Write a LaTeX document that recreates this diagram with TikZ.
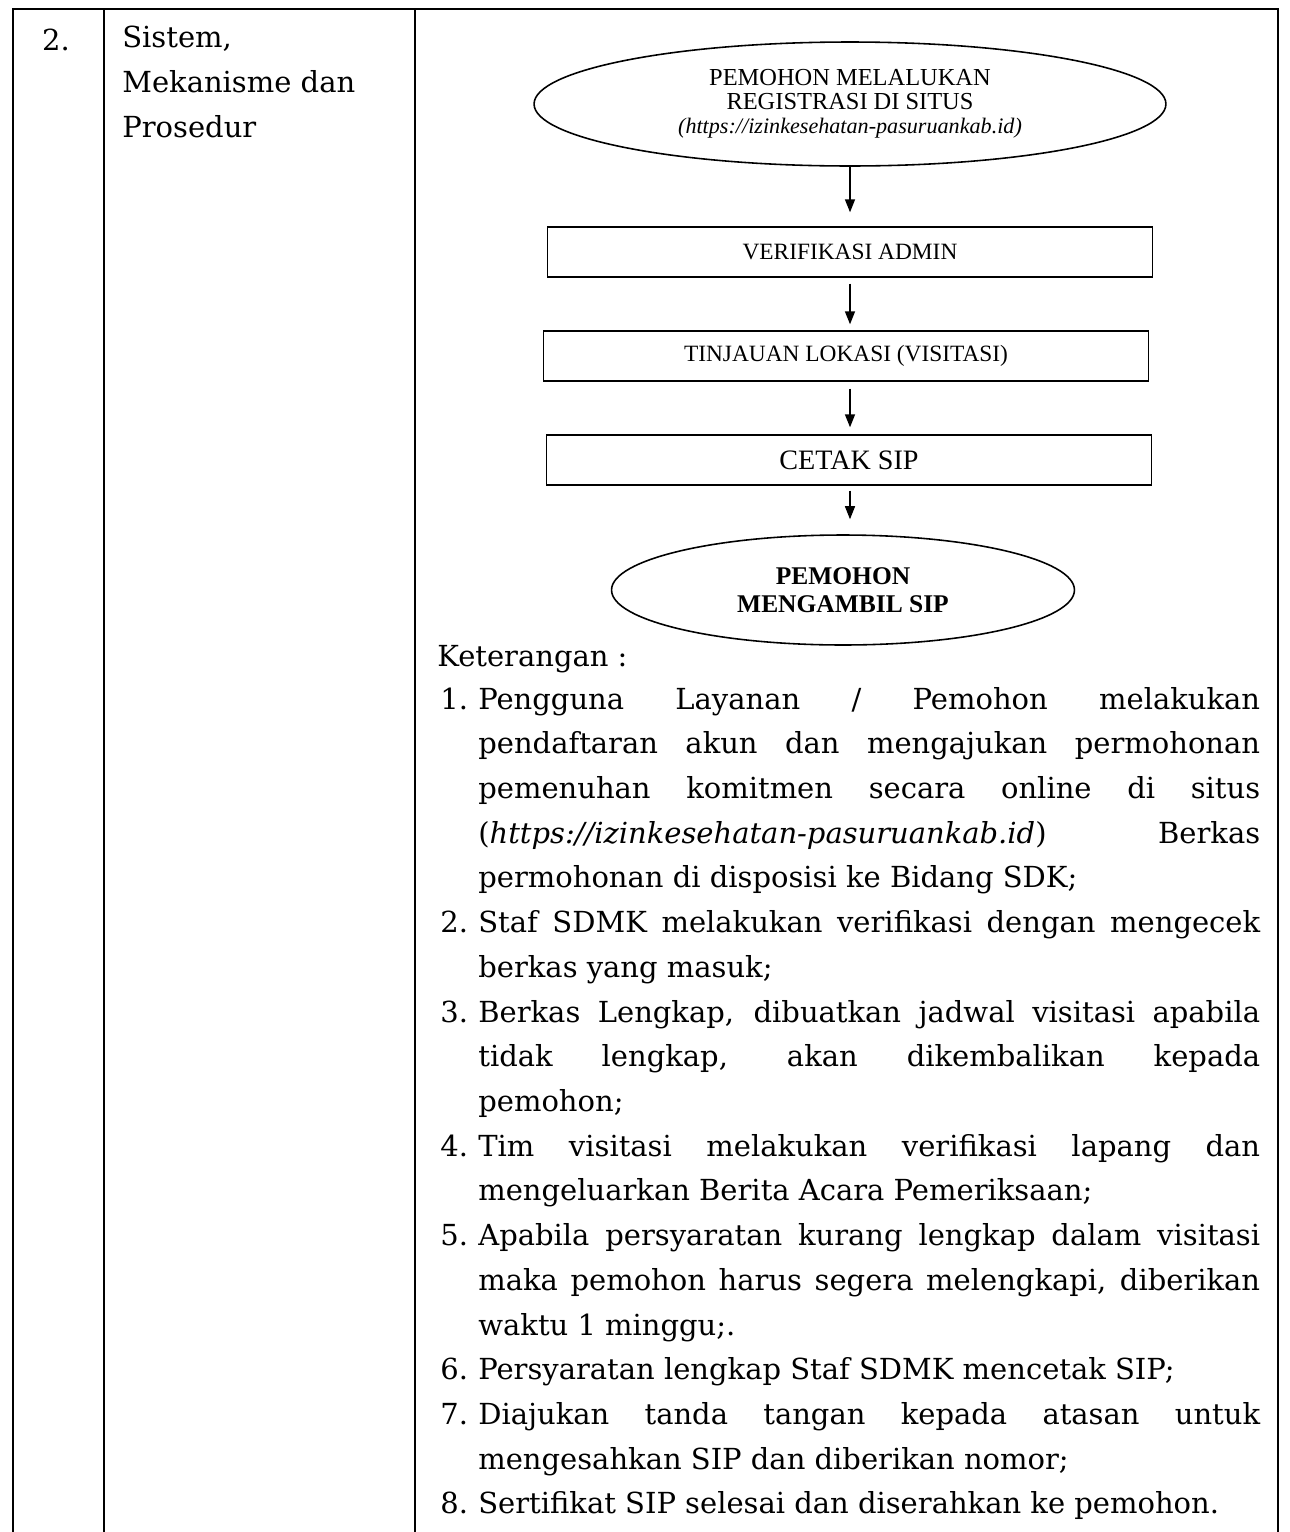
\documentclass[tikz,border=0pt]{standalone}
\usepackage{fontspec}
\setmainfont{DejaVu Serif}
\newfontfamily\flowfont{Liberation Serif}
\usetikzlibrary{shapes.geometric,arrows.meta}

\newcommand\notenum[1]{\noindent\hangindent=0.76cm\hangafter=1\makebox[0.76cm][l]{#1}}

\begin{document}
\begin{tikzpicture}[x=0.02cm,y=-0.02cm,
    tableline/.style={line width=1.5pt,line join=miter},
    bodytext/.style={font=\fontsize{16.5}{25.45}\selectfont,inner sep=0pt},
    flowbox/.style={draw,line width=0.8pt,rectangle,minimum width=12.1cm,minimum height=1cm,
      inner sep=0pt,font=\flowfont\fontsize{13.3}{14}\selectfont},
    flowoval/.style={draw,line width=0.9pt,ellipse,inner sep=0pt,align=center},
    flowarrow/.style={line width=0.8pt,-{Triangle[length=0.26cm,width=0.2cm]}}]

    \useasboundingbox (0,0) rectangle (1289,1532);

    % Table frame
    \draw[tableline] (13,1532) -- (13,9) -- (1278,9) -- (1278,1532);
    \draw[tableline] (104,9) -- (104,1532);
    \draw[tableline] (415,9) -- (415,1532);

    % Row heading
    \node[bodytext,anchor=base] (num) at (56,50) {2.};
    \node[bodytext,anchor=base west,align=left] (title) at (122,137) {Sistem,\\Mekanisme dan\\Prosedur};

    % Flow chart
    \node[flowoval,minimum width=12.64cm,minimum height=2.48cm,
      font=\flowfont\fontsize{13.9}{13.6}\selectfont] (reg) at (850,104)
      {PEMOHON MELALUKAN\\REGISTRASI DI SITUS\\{\fontsize{12.6}{13.6}\selectfont\itshape (https://izinkesehatan-pasuruankab.id)}};
    \node[flowbox] (verif) at (850,252) {VERIFIKASI ADMIN};
    \node[flowbox] (visit) at (846,356) {TINJAUAN LOKASI (VISITASI)};
    \node[flowbox,font=\flowfont\fontsize{16}{17}\selectfont] (print) at (849,460) {CETAK SIP};
    \node[flowoval,minimum width=9.26cm,minimum height=2.2cm,
      font=\flowfont\bfseries\fontsize{14.5}{15.9}\selectfont] (take) at (843,590)
      {PEMOHON\\MENGAMBIL SIP};

    % Arrows
    \draw[flowarrow,shorten >=0.28cm] (reg.south) -- (reg.south |- verif.north);
    \draw[flowarrow,shorten <=0.12cm,shorten >=0.12cm] (verif.south) -- (verif.south |- visit.north);
    \draw[flowarrow,shorten <=0.14cm,shorten >=0.14cm] (verif.south |- visit.south) -- (verif.south |- print.north);
    \draw[flowarrow,shorten <=0.1cm,shorten >=0.3cm] (verif.south |- print.south) -- (verif.south |- take.north);

    % Notes
    \node[bodytext,anchor=base west] (notes) at (437,666) {Keterangan :};
    \node[bodytext,anchor=base west,text width=16.4cm,align=justify] (steps) at (440,709) {%
      \tolerance=10000 \hyphenpenalty=10000 \exhyphenpenalty=10000
      \notenum{1.}Pengguna Layanan / Pemohon melakukan\linebreak
      pendaftaran akun dan mengajukan permohonan\linebreak
      pemenuhan komitmen secara online di situs\linebreak
      (\textit{https://izinkesehatan-pasuruankab.id}) Berkas\linebreak
      permohonan di disposisi ke Bidang SDK;\par
      \notenum{2.}Staf SDMK melakukan verifikasi dengan mengecek\linebreak
      berkas yang masuk;\par
      \notenum{3.}Berkas Lengkap, dibuatkan jadwal visitasi apabila\linebreak
      tidak lengkap, akan dikembalikan kepada\linebreak
      pemohon;\par
      \notenum{4.}Tim visitasi melakukan verifikasi lapang dan\linebreak
      mengeluarkan Berita Acara Pemeriksaan;\par
      \notenum{5.}Apabila persyaratan kurang lengkap dalam visitasi\linebreak
      maka pemohon harus segera melengkapi, diberikan\linebreak
      waktu 1 minggu;.\par
      \notenum{6.}Persyaratan lengkap Staf SDMK mencetak SIP;\par
      \notenum{7.}Diajukan tanda tangan kepada atasan untuk\linebreak
      mengesahkan SIP dan diberikan nomor;\par
      \notenum{8.}Sertifikat SIP selesai dan diserahkan ke pemohon.};
\end{tikzpicture}
\end{document}
